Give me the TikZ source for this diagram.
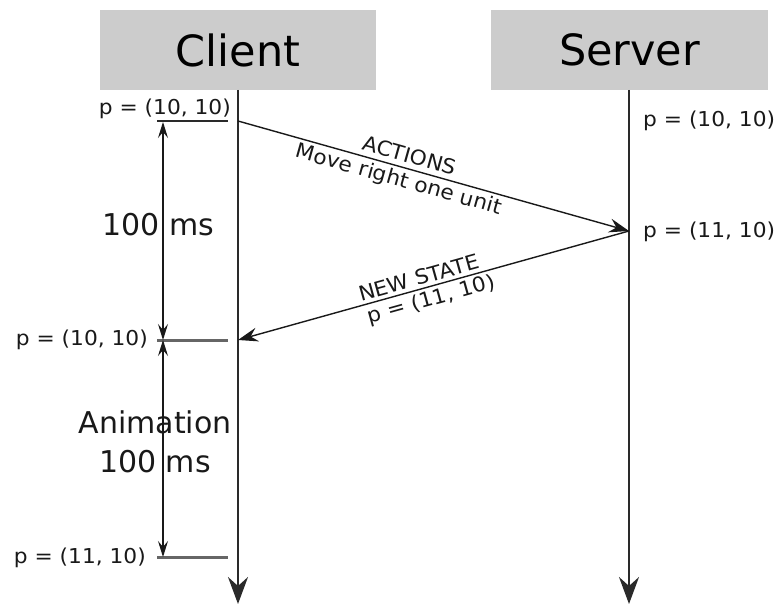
\documentclass[tikz,border=0pt]{standalone}
\usepackage{fontspec}
\setmainfont{DejaVu Sans}
\newfontfamily\widefont[FakeStretch=1.06]{DejaVu Sans}
\usetikzlibrary{arrows.meta}
\definecolor{boxgray}{HTML}{CCCCCC}
\definecolor{linegray}{HTML}{2A2A2A}
\tikzset{
  hdr/.style={fill=boxgray, draw=none, minimum width=276pt, minimum height=80pt, inner sep=0pt, font=\fontsize{43}{50}\selectfont},
  life/.style={draw=linegray, line width=2pt, -{Stealth[length=27pt,width=20pt,inset=9pt]}},
  msg/.style={draw=black!90, line width=1.4pt, -{Stealth[length=20pt,width=14pt,inset=7pt]}},
  dim/.style={draw=black!90, line width=1.1pt, {Stealth[length=16pt,width=10pt,inset=6pt]}-{Stealth[length=16pt,width=10pt,inset=6pt]}},
  small/.style={font=\widefont\fontsize{20.5}{24}\selectfont, inner sep=0pt, text=black!90},
  big/.style={font=\fontsize{30}{36}\selectfont, inner sep=0pt, text=black!90},
  tick/.style={draw=black!60, line width=3pt},
  ticktop/.style={draw=linegray, line width=2pt},
  lbl/.style={font=\widefont\fontsize{20.5}{24}\selectfont, inner sep=1pt, text=black!90, sloped}
}
\begin{document}
\begin{tikzpicture}[x=1pt,y=-1pt]
\useasboundingbox (0,0) rectangle (776,604);
% headers
\node[hdr] (client) at (238,50) {Client};
\node[hdr, minimum width=277pt] (server) at (629.5,50) {Server};
% lifelines
\coordinate (cend) at (238,604);
\coordinate (send) at (629,604);
\coordinate (ctop) at (238,90);
\coordinate (stop) at (629,90);
\draw[life] (ctop) -- (cend);
\draw[life] (stop) -- (send);
% message points
\coordinate (c1) at (238,121);
\coordinate (s1) at (629,231);
\coordinate (c2) at (238,340);
\draw[msg] (c1) -- node[lbl, pos=0.43, above=4pt] (act) {ACTIONS}
                   node[lbl, pos=0.42, below=2pt] (mv) {Move right one unit} (s1);
\draw[msg] (s1) -- node[lbl, pos=0.53, above=2pt] (ns) {NEW STATE}
                   node[lbl, pos=0.515, below=2pt] (np) {p = (11, 10)} (c2);
% ticks
\coordinate (t1a) at (157,121); \coordinate (t1b) at (228,121);
\coordinate (t2a) at (157,340); \coordinate (t2b) at (228,340);
\coordinate (t3a) at (157,557.5); \coordinate (t3b) at (228,557.5);
\draw[ticktop] (t1a) -- (t1b);
\draw[tick] (t2a) -- (t2b);
\draw[tick, line width=2.5pt] (t3a) -- (t3b);
% dimension arrows
\coordinate (d1) at (163,122);
\coordinate (d2) at (163,340);
\coordinate (d3) at (163,557);
\draw[dim] (d1) -- (d2);
\draw[dim] (d2) -- (d3);
% labels left
\node[small, anchor=base east] (lp1) at (231,115) {p = (10, 10)};
\node[small, anchor=base east] (lp2) at (148,345) {p = (10, 10)};
\node[small, anchor=base east] (lp3) at (146,563) {p = (11, 10)};
% labels server
\node[small, anchor=base west] (sp1) at (643,127) {p = (10, 10)};
\node[small, anchor=base west] (sp2) at (643,237) {p = (11, 10)};
% big labels
\node[big, anchor=base] (ms1) at (158.5,235) {100 ms};
\node[big, anchor=base] (anim) at (155,433) {Animation};
\node[big, anchor=base] (ms2) at (155,472) {100 ms};
\end{tikzpicture}
\end{document}
